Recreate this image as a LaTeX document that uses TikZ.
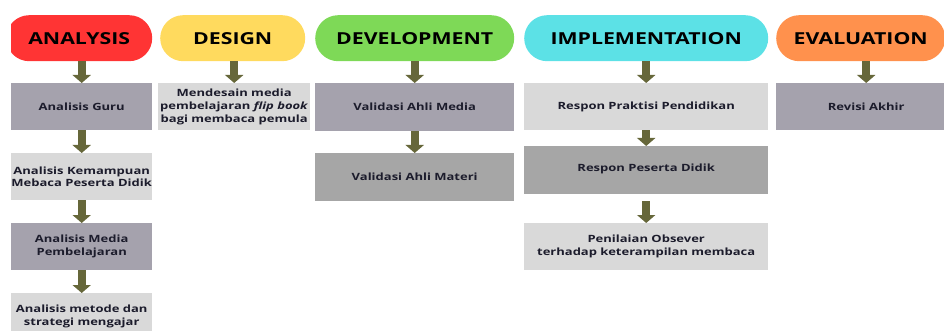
\documentclass[tikz,border=0pt]{standalone}
\usepackage{fontspec}
\newfontfamily\hfont[FakeStretch=1.29]{Open Sans}
\newfontfamily\bfont[FakeStretch=1.3]{Open Sans}
\usetikzlibrary{arrows.meta}
\definecolor{cred}{HTML}{FF3434}
\definecolor{cyel}{HTML}{FFDA5E}
\definecolor{cgrn}{HTML}{7ED957}
\definecolor{ccyn}{HTML}{5CE1E6}
\definecolor{corg}{HTML}{FF914D}
\definecolor{gpur}{HTML}{A5A2AD}
\definecolor{glt}{HTML}{D9D9D9}
\definecolor{gmid}{HTML}{A6A6A6}
\definecolor{arr}{HTML}{66673A}
\definecolor{txt}{HTML}{1C1C2C}
\tikzset{
  pill/.style={rectangle, rounded corners=23pt, minimum height=46pt, inner sep=0pt, anchor=north west,
    text=black, font=\hfont\bfseries\fontsize{16.5}{18}\selectfont},
  box/.style={rectangle, minimum height=47pt, inner sep=0pt, anchor=north west, align=center,
    text=txt, font=\bfont\bfseries\fontsize{10}{12.8}\selectfont},
  fat/.style={draw=arr, line width=8pt, -{Triangle[width=18pt,length=8pt]}}
}
\begin{document}
\begin{tikzpicture}[x=1pt,y=-1pt]
\useasboundingbox (0,0) rectangle (944,331);
\clip (11,0) rectangle (944,331);
% phases
\node[pill, fill=cred, minimum width=146pt] (pa) at (6,15) {ANALYSIS};
\node[pill, fill=cyel, minimum width=145pt] (pd) at (160,15) {DESIGN};
\node[pill, fill=cgrn, minimum width=199pt] (pv) at (315,15) {DEVELOPMENT};
\node[pill, fill=ccyn, minimum width=244pt] (pi) at (524,15) {IMPLEMENTATION};
\node[pill, fill=corg, minimum width=169pt] (pe) at (776,15) {EVALUATION};
% analysis column
\node[box, fill=gpur, minimum width=141pt] (ag) at (11,83) {Analisis Guru};
\node[box, fill=glt, minimum width=141pt] (ak) at (11,153) {Analisis Kemampuan\\Mebaca Peserta Didik};
\node[box, fill=gpur, minimum width=141pt] (am) at (11,223) {Analisis Media\\Pembelajaran};
\node[box, fill=glt, minimum width=141pt] (amt) at (11,293) {Analisis metode dan\\strategi mengajar};
% design
\node[box, fill=glt, minimum width=152pt] (ds) at (158,83) {Mendesain media\\pembelajaran \textit{flip book}\\bagi membaca pemula};
% development
\node[box, fill=gpur, minimum width=199pt, minimum height=48pt] (vm) at (315,83) {Validasi Ahli Media};
\node[box, fill=gmid, minimum width=199pt, minimum height=48pt] (vt) at (315,153) {Validasi Ahli Materi};
% implementation
\node[box, fill=glt, minimum width=244pt] (rp) at (524,83) {Respon Praktisi Pendidikan};
\node[box, fill=gmid, minimum width=244pt, minimum height=48pt] (rs) at (524,146) {\raisebox{4pt}{Respon Peserta Didik}};
\node[box, fill=glt, minimum width=244pt] (pn) at (524,223) {Penilaian Obsever\\terhadap keterampilan membaca};
% evaluation
\node[box, fill=gpur, minimum width=180pt] (rv) at (776,83) {Revisi Akhir};
% arrows
\draw[fat] (ag.north |- pa.south) -- (ag.north);
\draw[fat] (ag.south) -- (ak.north);
\draw[fat] (ak.south) -- (am.north);
\draw[fat] (am.south) -- (amt.north);
\draw[fat] (ds.north |- pd.south) -- (ds.north);
\draw[fat] (vm.north |- pv.south) -- (vm.north);
\draw[fat] (vm.south) -- (vt.north);
\draw[fat] (rp.north |- pi.south) -- (rp.north);
\draw[fat] (rp.south) -- (rs.north);
\draw[fat, shorten <=7pt] (rs.south) -- (pn.north);
\draw[fat] (rv.north |- pe.south) -- (rv.north);
\end{tikzpicture}
\end{document}
